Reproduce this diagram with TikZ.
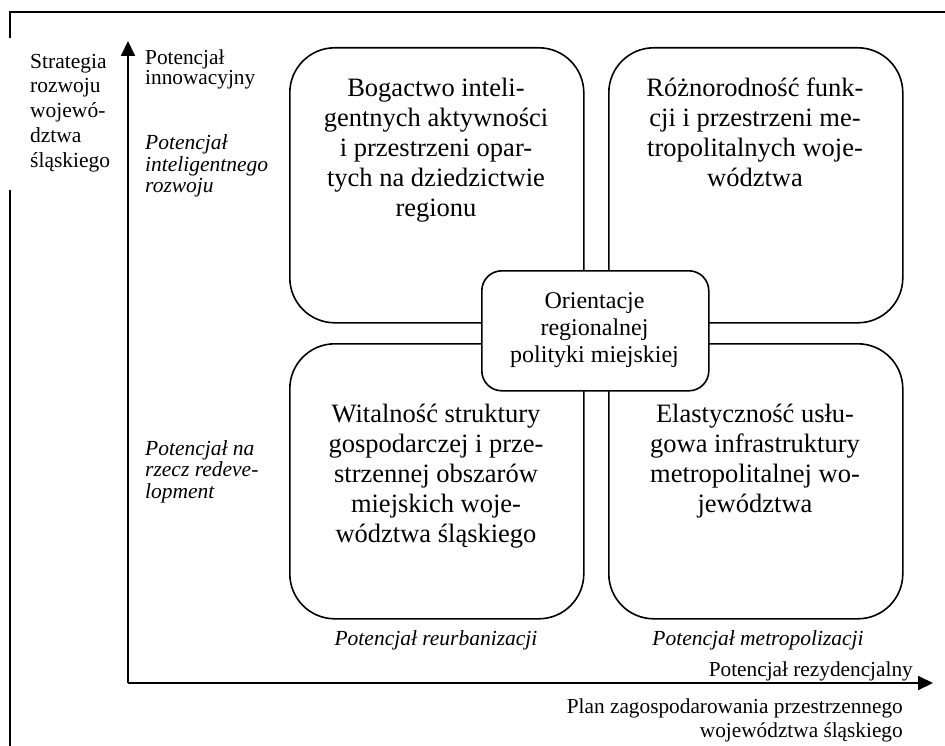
\documentclass[tikz,border=0pt]{standalone}
\usepackage{fontspec}
\setmainfont{Liberation Serif}
\usetikzlibrary{arrows.meta}
\tikzset{
  quad/.style={draw, line width=1.6pt, rounded corners=45pt, minimum width=294pt, minimum height=275pt, inner sep=0pt, anchor=north west},
  hub/.style={draw, fill=white, line width=1.6pt, rounded corners=20pt, minimum width=227pt, minimum height=120pt, inner sep=0pt, anchor=north west},
  quadtext/.style={align=center, inner sep=0pt, anchor=base, font=\fontsize{26.5}{30}\selectfont},
  hubtext/.style={align=center, inner sep=0pt, anchor=base, font=\fontsize{24}{27}\selectfont},
  axislabel/.style={inner sep=0pt, font=\fontsize{21.3}{20}\selectfont},
  potlabel/.style={inner sep=0pt, font=\fontsize{21.5}{21.5}\selectfont\itshape},
  axis/.style={line width=2pt, -{Triangle[length=15pt,width=14pt]}},
  frame/.style={line width=1.5pt}
}
\begin{document}
\begin{tikzpicture}[x=1pt,y=-1pt]
\useasboundingbox (0,0) rectangle (945,746);
% frame
\coordinate (ftr) at (945,12);
\coordinate (ftl) at (10,12);
\coordinate (fgap1) at (10,38);
\coordinate (fgap2) at (10,190);
\coordinate (fbl) at (10,746);
\draw[frame] (ftr) -- (ftl) -- (fgap1);
\draw[frame] (fgap2) -- (fbl);
% axes
\coordinate (origin) at (128,683);
\coordinate (ytip) at (128,41);
\coordinate (xtip) at (933,683);
\draw[axis] (origin) -- (ytip);
\draw[axis] (origin) -- (xtip);
% quadrant boxes
\node[quad] (tl) at (289,47) {};
\node[quad] (tr) at (608,47) {};
\node[quad] (bl) at (289,343) {};
\node[quad] (br) at (608,343) {};
% text nodes: anchor base = baseline of the last line
\node[quadtext] (tltext) at (436,217) {Bogactwo inteli-\\gentnych aktywności\\i przestrzeni opar-\\tych na dziedzictwie\\regionu};
\node[quadtext] (trtext) at (755,187) {Różnorodność funk-\\cji i przestrzeni me-\\tropolitalnych woje-\\wództwa};
\node[quadtext] (bltext) at (436,542) {Witalność struktury\\gospodarczej i prze-\\strzennej obszarów\\miejskich woje-\\wództwa śląskiego};
\node[quadtext] (brtext) at (755,512) {Elastyczność usłu-\\gowa infrastruktury\\metropolitalnej wo-\\jewództwa};
% hub
\node[hub] (hub) at (481,270) {};
\node[hubtext] (hubtext) at (594.5,362) {Orientacje\\regionalnej\\polityki miejskiej};
% labels
\node[axislabel, align=left, anchor=base west] (innow) at (145,85) {Potencjał\\innowacyjny};
\node[inner sep=0pt, align=left, anchor=base west, font=\fontsize{21.5}{25}\selectfont] (strat) at (30,168) {Strategia\\rozwoju\\wojewó-\\dztwa\\śląskiego};
\node[potlabel, align=left, anchor=base west] (intel) at (145,193) {Potencjał\\inteligentnego\\rozwoju};
\node[potlabel, align=left, anchor=base west] (redev) at (145,498) {Potencjał na\\rzecz redeve-\\lopment};
\node[potlabel, anchor=base] (reurb) at (436,645) {Potencjał reurbanizacji};
\node[potlabel, anchor=base] (metro) at (758,645) {Potencjał metropolizacji};
\node[axislabel, anchor=base east] (rezyd) at (913,676) {Potencjał rezydencjalny};
\node[axislabel, align=right, anchor=base east, font=\fontsize{21.3}{24}\selectfont] (plan) at (903,737) {Plan zagospodarowania przestrzennego\\województwa śląskiego};
\end{tikzpicture}
\end{document}
